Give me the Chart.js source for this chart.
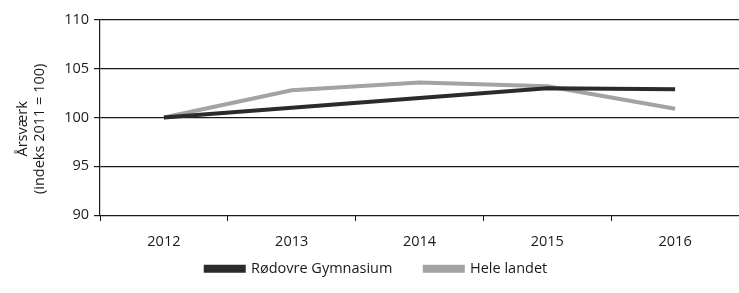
<!DOCTYPE html>
<html>
<head>
<meta charset="utf-8">
<script src="https://cdn.jsdelivr.net/npm/chart.js@4"></script>
<style>
  html, body { margin: 0; padding: 0; background: #fff; }
  #wrap { width: 739px; height: 293px; }
</style>
</head>
<body>
<div id="wrap"><canvas id="chart"></canvas></div>
<script>
// Data
const years = ['2012', '2013', '2014', '2015', '2016'];
const roedovre = [100, 101, 102, 103, 102.9];
const heleLandet = [100, 102.8, 103.6, 103.2, 100.9];
const yTicks = [90, 95, 100, 105, 110];
const yTitle = ['Årsværk', '(indeks 2011 = 100)'];

const font = '"Open Sans", sans-serif';

// pull the legend a little closer to the x labels
const legendNudge = {
    id: 'legendNudge',
    afterLayout: function(chart) {
        if (chart.legend) {
            chart.legend.top -= 7;
            chart.legend.bottom -= 7;
        }
    }
};

new Chart(document.getElementById('chart'), {
    type: 'line',
    data: {
        labels: years,
        datasets: [
            {
                label: 'Rødovre Gymnasium',
                data: roedovre,
                borderColor: '#2b2b2b',
                backgroundColor: '#2b2b2b',
                borderWidth: 4,
                pointRadius: 0,
                tension: 0
            },
            {
                label: 'Hele landet',
                data: heleLandet,
                borderColor: '#a3a3a3',
                backgroundColor: '#a3a3a3',
                borderWidth: 4,
                pointRadius: 0,
                tension: 0
            }
        ]
    },
    plugins: [legendNudge],
    options: {
        responsive: true,
        maintainAspectRatio: false,
        animation: false,
        layout: { padding: { top: 20, right: 0, left: 14, bottom: 0 } },
        scales: {
            x: {
                offset: true,
                grid: {
                    offset: true,
                    drawOnChartArea: false,
                    color: '#1a1a1a',
                    tickLength: 6
                },
                border: { display: false },
                ticks: {
                    color: '#1a1a1a',
                    font: { family: font, size: 14.5 },
                    padding: 12,
                    maxRotation: 0
                }
            },
            y: {
                min: 90,
                max: 110,
                afterBuildTicks: function(scale) {
                    scale.ticks = yTicks.map(v => ({ value: v }));
                },
                afterFit: function(scale) {
                    scale.width = 86;
                },
                grid: {
                    color: '#1a1a1a',
                    tickLength: 6,
                    lineWidth: 1.2
                },
                border: { display: true, color: '#1a1a1a', width: 1.2 },
                ticks: {
                    color: '#1a1a1a',
                    font: { family: font, size: 14.5 },
                    padding: 5
                },
                title: {
                    display: true,
                    // trailing spaces push the rotated title a bit lower, like the original
                    text: yTitle.map(t => t + '      '),
                    color: '#1a1a1a',
                    font: { family: font, size: 14.5 },
                    padding: 0
                }
            }
        },
        plugins: {
            legend: {
                position: 'bottom',
                labels: {
                    color: '#1a1a1a',
                    font: { family: font, size: 14.5 },
                    boxWidth: 38,
                    boxHeight: 4,
                    padding: 6,
                    // wider gap between the two entries, as in the original
                    generateLabels: function(chart) {
                        const items = Chart.defaults.plugins.legend.labels.generateLabels(chart);
                        items.forEach((it, i) => {
                            if (i < items.length - 1) it.text += '       ';
                        });
                        return items;
                    }
                }
            },
            tooltip: { enabled: false }
        }
    }
});
</script>
</body>
</html>
